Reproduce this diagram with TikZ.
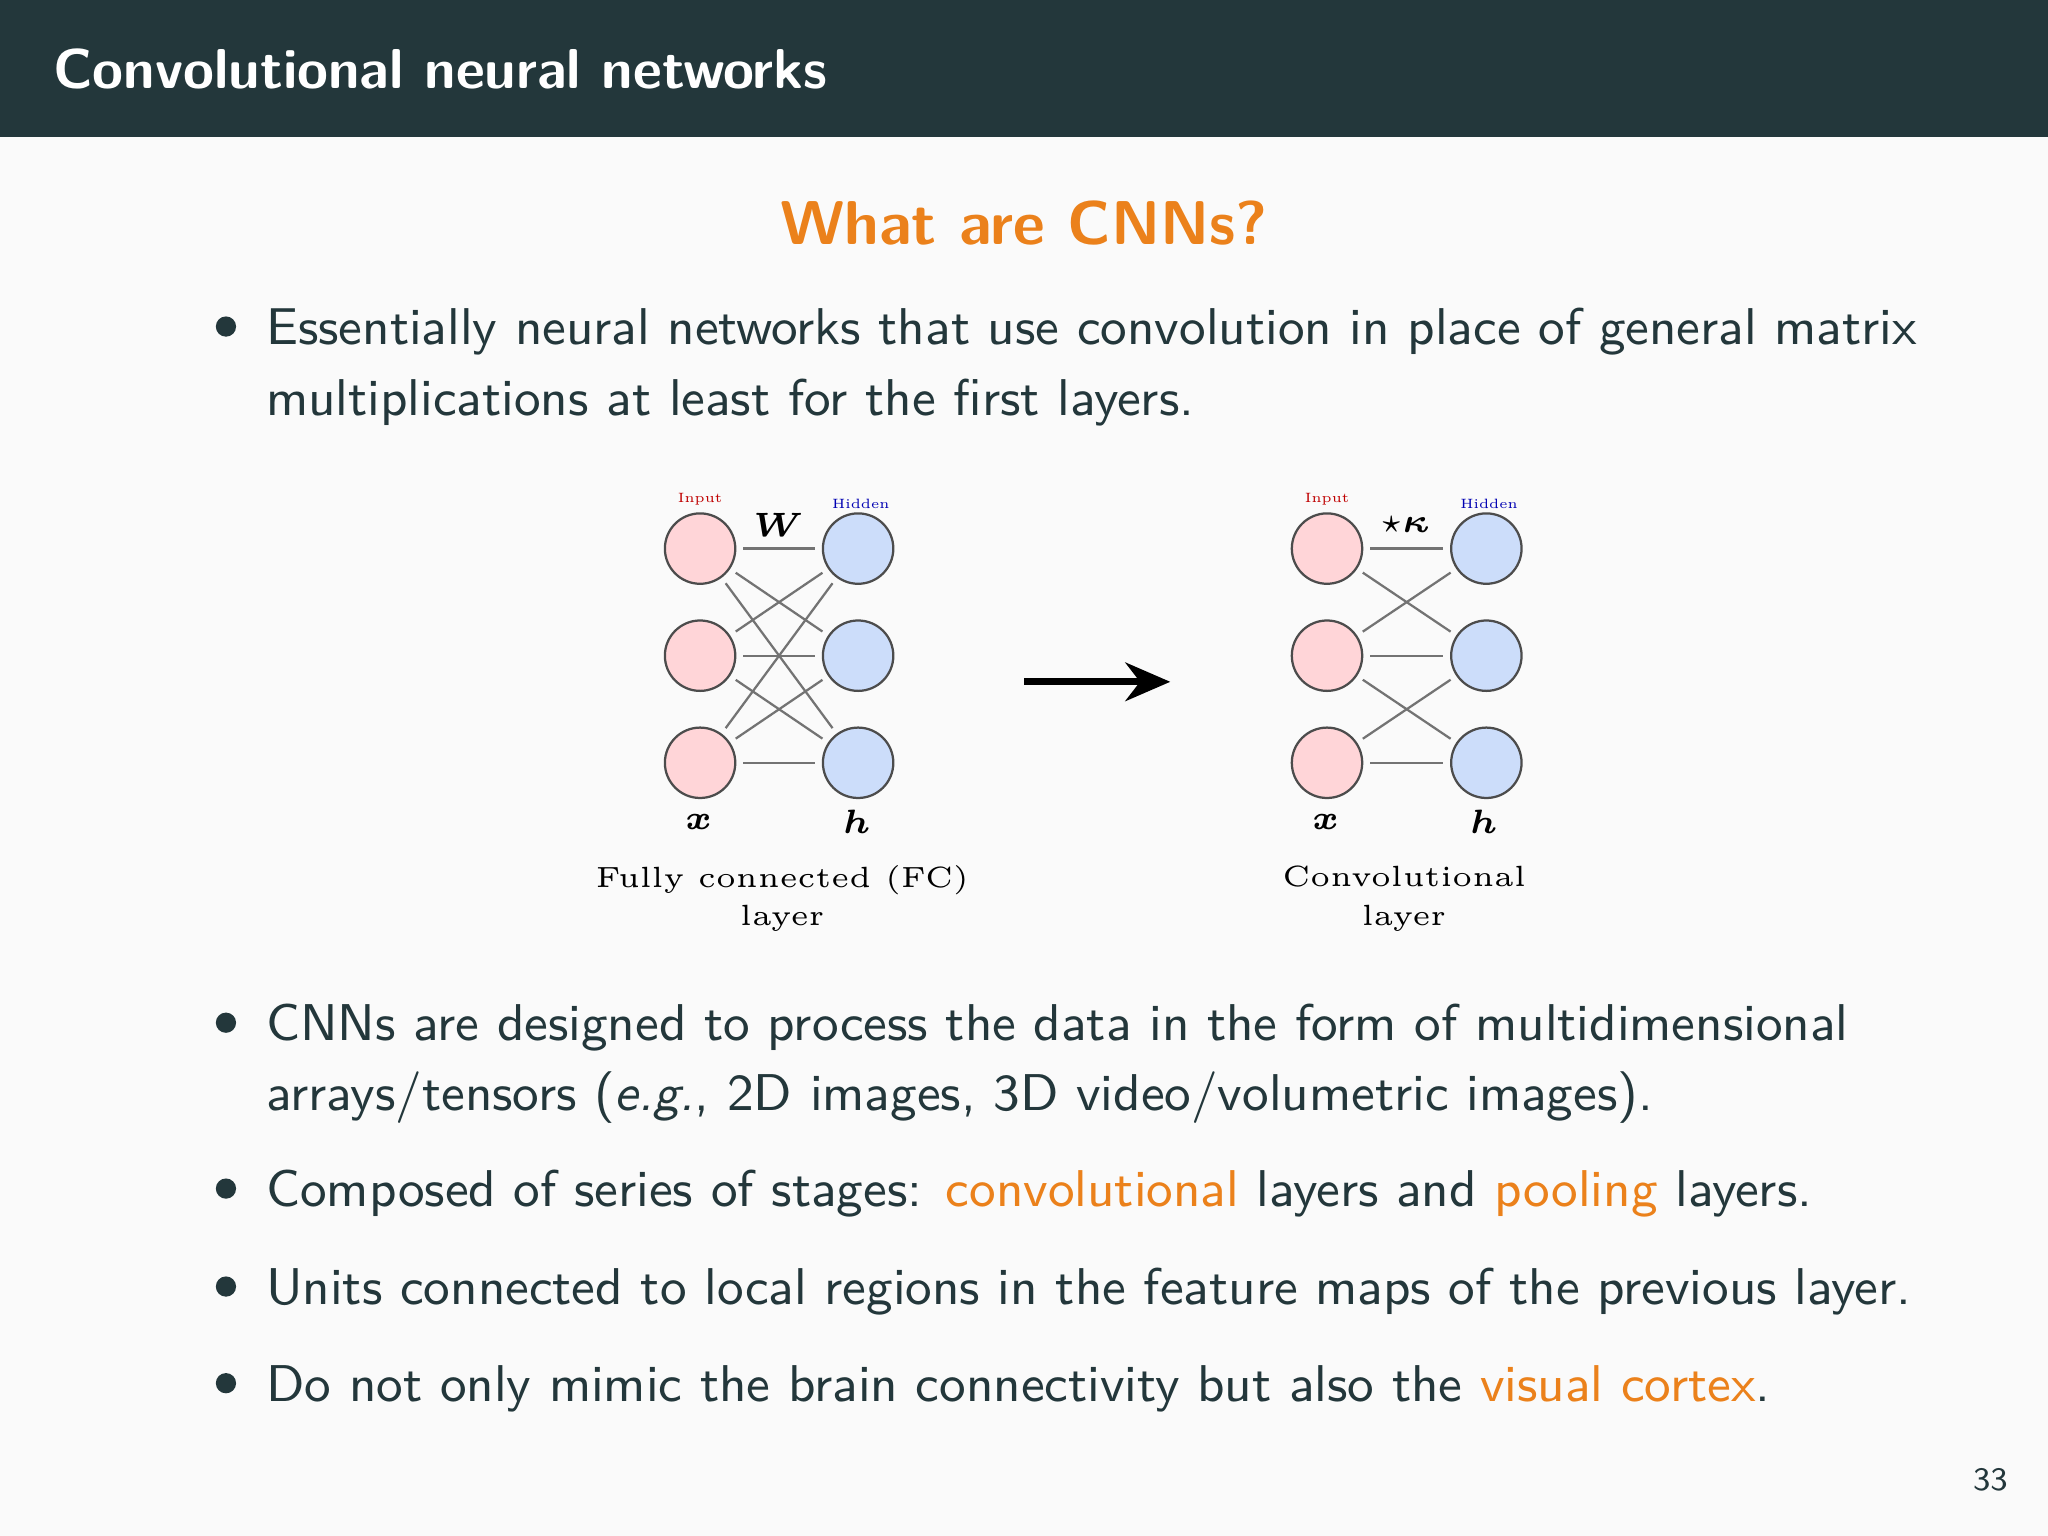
\documentclass[tikz,border=0pt]{standalone}
\usepackage{tikz}
\usepackage{xcolor}
\usepackage{amsmath,amssymb,bm}
\usetikzlibrary{arrows.meta,positioning}
\definecolor{darkteal}{HTML}{23373B}
\definecolor{mOrange}{HTML}{EB811B}
\definecolor{inred}{HTML}{FFD5D8}
\definecolor{hidblue}{HTML}{CCDDFA}
\tikzset{
  txt/.style={anchor=base west,inner sep=0pt,text=darkteal,font=\sffamily\fontsize{9.2}{11}\selectfont},
  bul/.style={circle,fill=darkteal,inner sep=0pt,minimum size=3.6pt},
  inp/.style={circle,draw=black!70,fill=inred,inner sep=0pt,minimum size=4.4mm},
  hid/.style={circle,draw=black!70,fill=hidblue,inner sep=0pt,minimum size=4.4mm},
  edge/.style={thin,draw=black!55,shorten >=1.2pt,shorten <=1.2pt},
  lbl/.style={inner sep=0pt,font=\fontsize{2.4}{3}\selectfont},
  captxt/.style={inner sep=0pt,align=center,font=\fontsize{5.2}{6.9}\selectfont},
  sym/.style={inner sep=0pt,font=\fontsize{6.5}{7}\selectfont}
}
\begin{document}
\begin{tikzpicture}[x=0.08163mm,y=-0.08163mm]
\useasboundingbox (0,0) rectangle (1568,1176);
\fill[fill={rgb,255:red,250;green,250;blue,250}] (0,0) rectangle (1568,1176);
\fill[darkteal] (0,0) rectangle (1568,105);
\node[anchor=base west,inner sep=0pt,text=white,font=\sffamily\bfseries\fontsize{10}{12}\selectfont] (ftitle) at (40,68) {Convolutional neural networks};
\node[anchor=base,inner sep=0pt,text=mOrange,font=\sffamily\bfseries\fontsize{11}{13}\selectfont] (btitle) at (784,187) {What are CNNs?};
% bullets
\node[bul] (b1) at (173,250) {};
\node[txt] (t1a) at (203,264) {Essentially neural networks that use convolution in place of general matrix};
\node[txt] (t1b) at (203,318) {multiplications at least for the first layers.};
\node[bul] (b2) at (173,783) {};
\node[txt] (t2a) at (203,797) {CNNs are designed to process the data in the form of multidimensional};
\node[txt] (t2b) at (203,850) {arrays/tensors (\textit{e.g.}, 2D images, 3D video/volumetric images).};
\node[bul] (b3) at (173,910) {};
\node[txt] (t3) at (203,924) {Composed of series of stages: \textcolor{mOrange}{convolutional} layers and \textcolor{mOrange}{pooling} layers.};
\node[bul] (b4) at (173,985) {};
\node[txt] (t4) at (203,999) {Units connected to local regions in the feature maps of the previous layer.};
\node[bul] (b5) at (173,1059) {};
\node[txt] (t5) at (203,1073) {Do not only mimic the brain connectivity but also the \textcolor{mOrange}{visual cortex}.};
\node[anchor=base east,inner sep=0pt,text=darkteal,font=\sffamily\fontsize{5.8}{7}\selectfont] (pnum) at (1538,1141) {33};
% fully connected layer
\node[inp] (x1) at (536,420) {};
\node[inp] (x2) at (536,502) {};
\node[inp] (x3) at (536,584) {};
\node[hid] (h1) at (657,420) {};
\node[hid] (h2) at (657,502) {};
\node[hid] (h3) at (657,584) {};
\foreach \i in {1,2,3}{\foreach \j in {1,2,3}{\draw[edge] (x\i) -- (h\j);}}
\node[lbl,text=red!75!black] (xin) at (536,382) {Input};
\node[lbl,text=blue!70!black] (hhid) at (659,386) {Hidden};
\node[sym] (wlab) at (596,402) {$\bm{W}$};
\node[sym] (xlab) at (535,629) {$\bm{x}$};
\node[sym] (hlab) at (656,629) {$\bm{h}$};
\node[captxt] (fccap) at (599,688) {Fully connected (FC)\\layer};
% convolutional layer
\node[inp] (cx1) at (1016,420) {};
\node[inp] (cx2) at (1016,502) {};
\node[inp] (cx3) at (1016,584) {};
\node[hid] (ch1) at (1138,420) {};
\node[hid] (ch2) at (1138,502) {};
\node[hid] (ch3) at (1138,584) {};
\draw[edge] (cx1) -- (ch1);
\draw[edge] (cx1) -- (ch2);
\draw[edge] (cx2) -- (ch1);
\draw[edge] (cx2) -- (ch2);
\draw[edge] (cx2) -- (ch3);
\draw[edge] (cx3) -- (ch2);
\draw[edge] (cx3) -- (ch3);
\node[lbl,text=red!75!black] (cxin) at (1016,382) {Input};
\node[lbl,text=blue!70!black] (chhid) at (1140,386) {Hidden};
\node[sym] (klab) at (1076,402) {$\star\bm{\kappa}$};
\node[sym] (cxlab) at (1015,629) {$\bm{x}$};
\node[sym] (chlab) at (1136,629) {$\bm{h}$};
\node[captxt] (cvcap) at (1075,688) {Convolutional\\layer};
% arrow
\coordinate (as) at (784,522);
\coordinate (ae) at (896,522);
\draw[line width=1.3pt,-{Stealth[length=2.8mm,width=2.4mm]}] (as) -- (ae);
\end{tikzpicture}
\end{document}
